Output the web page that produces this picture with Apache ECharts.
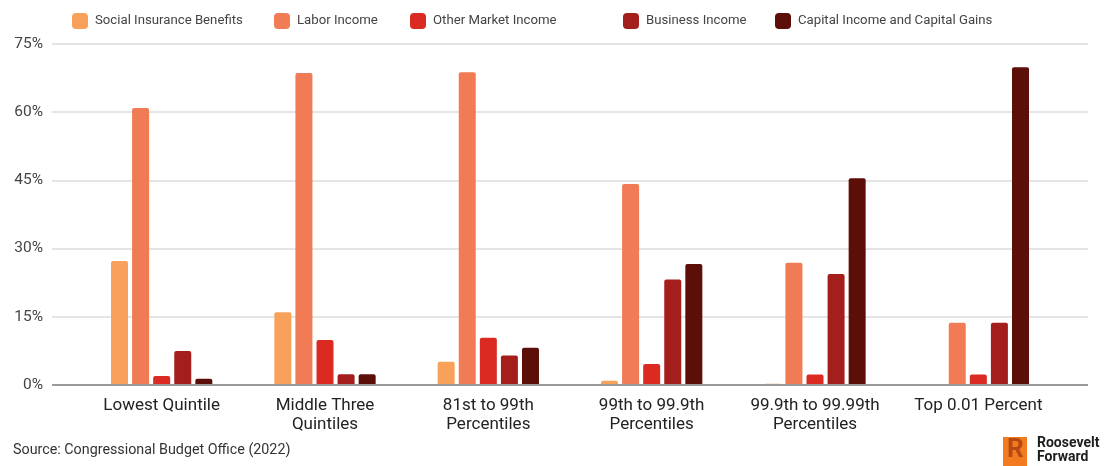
<!DOCTYPE html>
<html><head><meta charset="utf-8">
<script src="https://cdn.jsdelivr.net/npm/echarts@6/dist/echarts.min.js"></script>
<style>html,body{margin:0;padding:0;background:#fff}#c{width:1112px;height:466px}</style>
</head><body><div id="c"></div>
<script>
const categories = ['Lowest Quintile', 'Middle Three\nQuintiles', '81st to 99th\nPercentiles', '99th to 99.9th\nPercentiles', '99.9th to 99.99th\nPercentiles', 'Top 0.01 Percent'];
const socialInsurance = [27.3, 16.0, 5.1, 0.95, 0.3, 0];
const laborIncome = [60.9, 68.6, 68.8, 44.2, 26.9, 13.7];
const otherMarket = [2.0, 9.9, 10.4, 4.6, 2.3, 2.3];
const businessIncome = [7.5, 2.35, 6.5, 23.2, 24.4, 13.7];
const capitalIncome = [1.4, 2.35, 8.2, 26.6, 45.5, 69.9];
const yTicks = [0, 15, 30, 45, 60, 75];
const seriesNames = ['Social Insurance Benefits', 'Labor Income', 'Other Market Income', 'Business Income', 'Capital Income and Capital Gains'];
const seriesData = [socialInsurance, laborIncome, otherMarket, businessIncome, capitalIncome];
const colors = ['#F8A15A', '#F17B54', '#DA2A22', '#A41F1B', '#5C0E08'];
const legendLeft = [67, 269, 405, 618, 770];
const font = 'Roboto, "Liberation Sans", Arial, sans-serif';

const chart = echarts.init(document.getElementById('c'), null, {renderer: 'canvas'});
const option = {
  animation: false,
  backgroundColor: '#fff',
  textStyle: {fontFamily: font},
  legend: seriesNames.map((n, i) => ({
    data: [n], left: legendLeft[i], top: 8, itemWidth: 16, itemHeight: 16,
    icon: 'roundRect', selectedMode: false,
    textStyle: {fontSize: 13.2, color: '#444', fontFamily: font, padding: [0, 0, 0, 2]}
  })),
  grid: [
    {left: 52, right: 24, top: 44, bottom: 81},
    {left: 80, right: 52, top: 44, bottom: 81}
  ],
  xAxis: [
    {gridIndex: 0, type: 'category', data: ['a'], show: false},
    {gridIndex: 1, type: 'category', data: categories,
      axisLine: {show: false}, axisTick: {show: false},
      axisLabel: {interval: 0, hideOverlap: false, fontSize: 17, color: '#222', margin: 11, lineHeight: 19, fontFamily: font}}
  ],
  yAxis: [
    {gridIndex: 0, type: 'value', min: 0, max: 75, interval: 15,
      axisLine: {show: false}, axisTick: {show: false},
      splitLine: {lineStyle: {color: '#dcdcdc', width: 1.5}},
      axisLabel: {formatter: v => yTicks.includes(v) ? v + '%' : '', fontSize: 15.5, color: '#444', margin: 9, fontFamily: font}},
    {gridIndex: 1, type: 'value', min: 0, max: 75, interval: 15, show: false}
  ],
  series: seriesNames.map((n, i) => ({
    name: n, type: 'bar', xAxisIndex: 1, yAxisIndex: 1,
    data: seriesData[i], barWidth: 17, barGap: '24%',
    itemStyle: {color: colors[i], borderRadius: [2, 2, 0, 0]}
  })).concat([{
    type: 'line', xAxisIndex: 0, yAxisIndex: 0, data: [], silent: true,
    markLine: {symbol: 'none', silent: true, label: {show: false},
      lineStyle: {color: '#9a9a9a', width: 2, type: 'solid'}, data: [{yAxis: 0}]}
  }]),
  graphic: [
    {type: 'text', left: 13, top: 443, style: {text: 'Source: Congressional Budget Office (2022)', fontSize: 14.3, fill: '#333', fontFamily: font}},
    {type: 'rect', left: 1003, top: 437, shape: {width: 24, height: 29}, style: {fill: '#F47A1F'}},
    {type: 'text', left: 1007, top: 437, style: {text: 'R', fontSize: 26, fontWeight: 'bold', fill: '#B44A12', fontFamily: font}},
    {type: 'text', left: 1037, top: 436, style: {text: 'Roosevelt\nForward', fontSize: 14, lineHeight: 14.5, fontWeight: 'bold', fill: '#1d1d1d', fontFamily: font}}
  ]
};
chart.setOption(option);
</script></body></html>
